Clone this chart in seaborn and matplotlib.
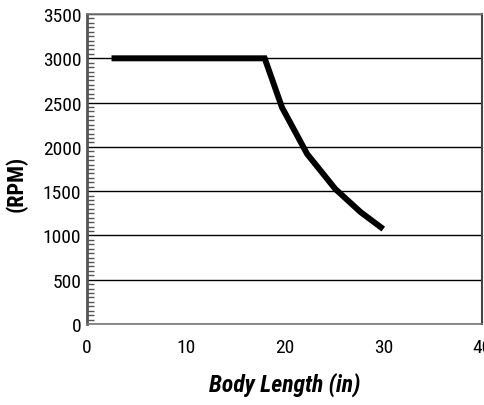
import numpy as np
import pandas as pd
import seaborn as sns
from matplotlib import pyplot as plt
from matplotlib.ticker import MultipleLocator

sns.set_style("white")
plt.rcParams["font.family"] = ["Roboto Condensed", "Archivo Narrow", "DejaVu Sans"]
plt.rcParams["text.color"] = "black"
plt.rcParams["axes.labelcolor"] = "black"
plt.rcParams["xtick.color"] = "black"
plt.rcParams["ytick.color"] = "black"

body_length = [2.5, 18, 19.75, 22.3, 25.15, 27.7, 30]
rpm = [3000, 3000, 2446, 1919, 1524, 1264, 1072]

df = pd.DataFrame({"length": body_length, "rpm": rpm})

fig = plt.figure(figsize=(4.85, 4.06), dpi=100)
ax = fig.add_axes([0.179, 0.1995, 0.815, 0.7635])

ax.yaxis.grid(True, color="black", lw=1.0)
ax.set_axisbelow(True)

sns.lineplot(data=df, x="length", y="rpm", color="black", lw=4.3,
             ax=ax, sort=False)
for l in ax.lines:
  l.set_solid_capstyle("butt")
  l.set_solid_joinstyle("miter")

ax.set_xlim(0, 40)
ax.set_ylim(0, 3500)
ax.xaxis.set_major_locator(MultipleLocator(10))
ax.yaxis.set_major_locator(MultipleLocator(500))
ax.yaxis.set_minor_locator(MultipleLocator(50))

ax.tick_params(axis="x", which="major", direction="in", length=6, width=1,
               color="#333333", labelsize=14, pad=10)
ax.tick_params(axis="y", which="major", direction="in", length=6, width=1,
               color="#333333", labelsize=14, pad=4)
ax.tick_params(axis="y", which="minor", direction="in", length=5, width=1,
               color="#555555", left=True)

for side in ["top", "bottom"]:
  ax.spines[side].set_color("#777777")
  ax.spines[side].set_linewidth(1.2)
ax.spines["left"].set_color("#555555")
ax.spines["left"].set_linewidth(2)
ax.spines["right"].set_color("#444444")
ax.spines["right"].set_linewidth(1.5)

ax.set_xlabel("Body Length (in)", fontsize=17, fontweight="bold",
              fontstyle="italic", labelpad=11)
ax.set_ylabel("(RPM)", fontsize=16, fontweight="bold")
ax.yaxis.set_label_coords(-0.15, 0.455)

plt.savefig("out.png", dpi=100)
